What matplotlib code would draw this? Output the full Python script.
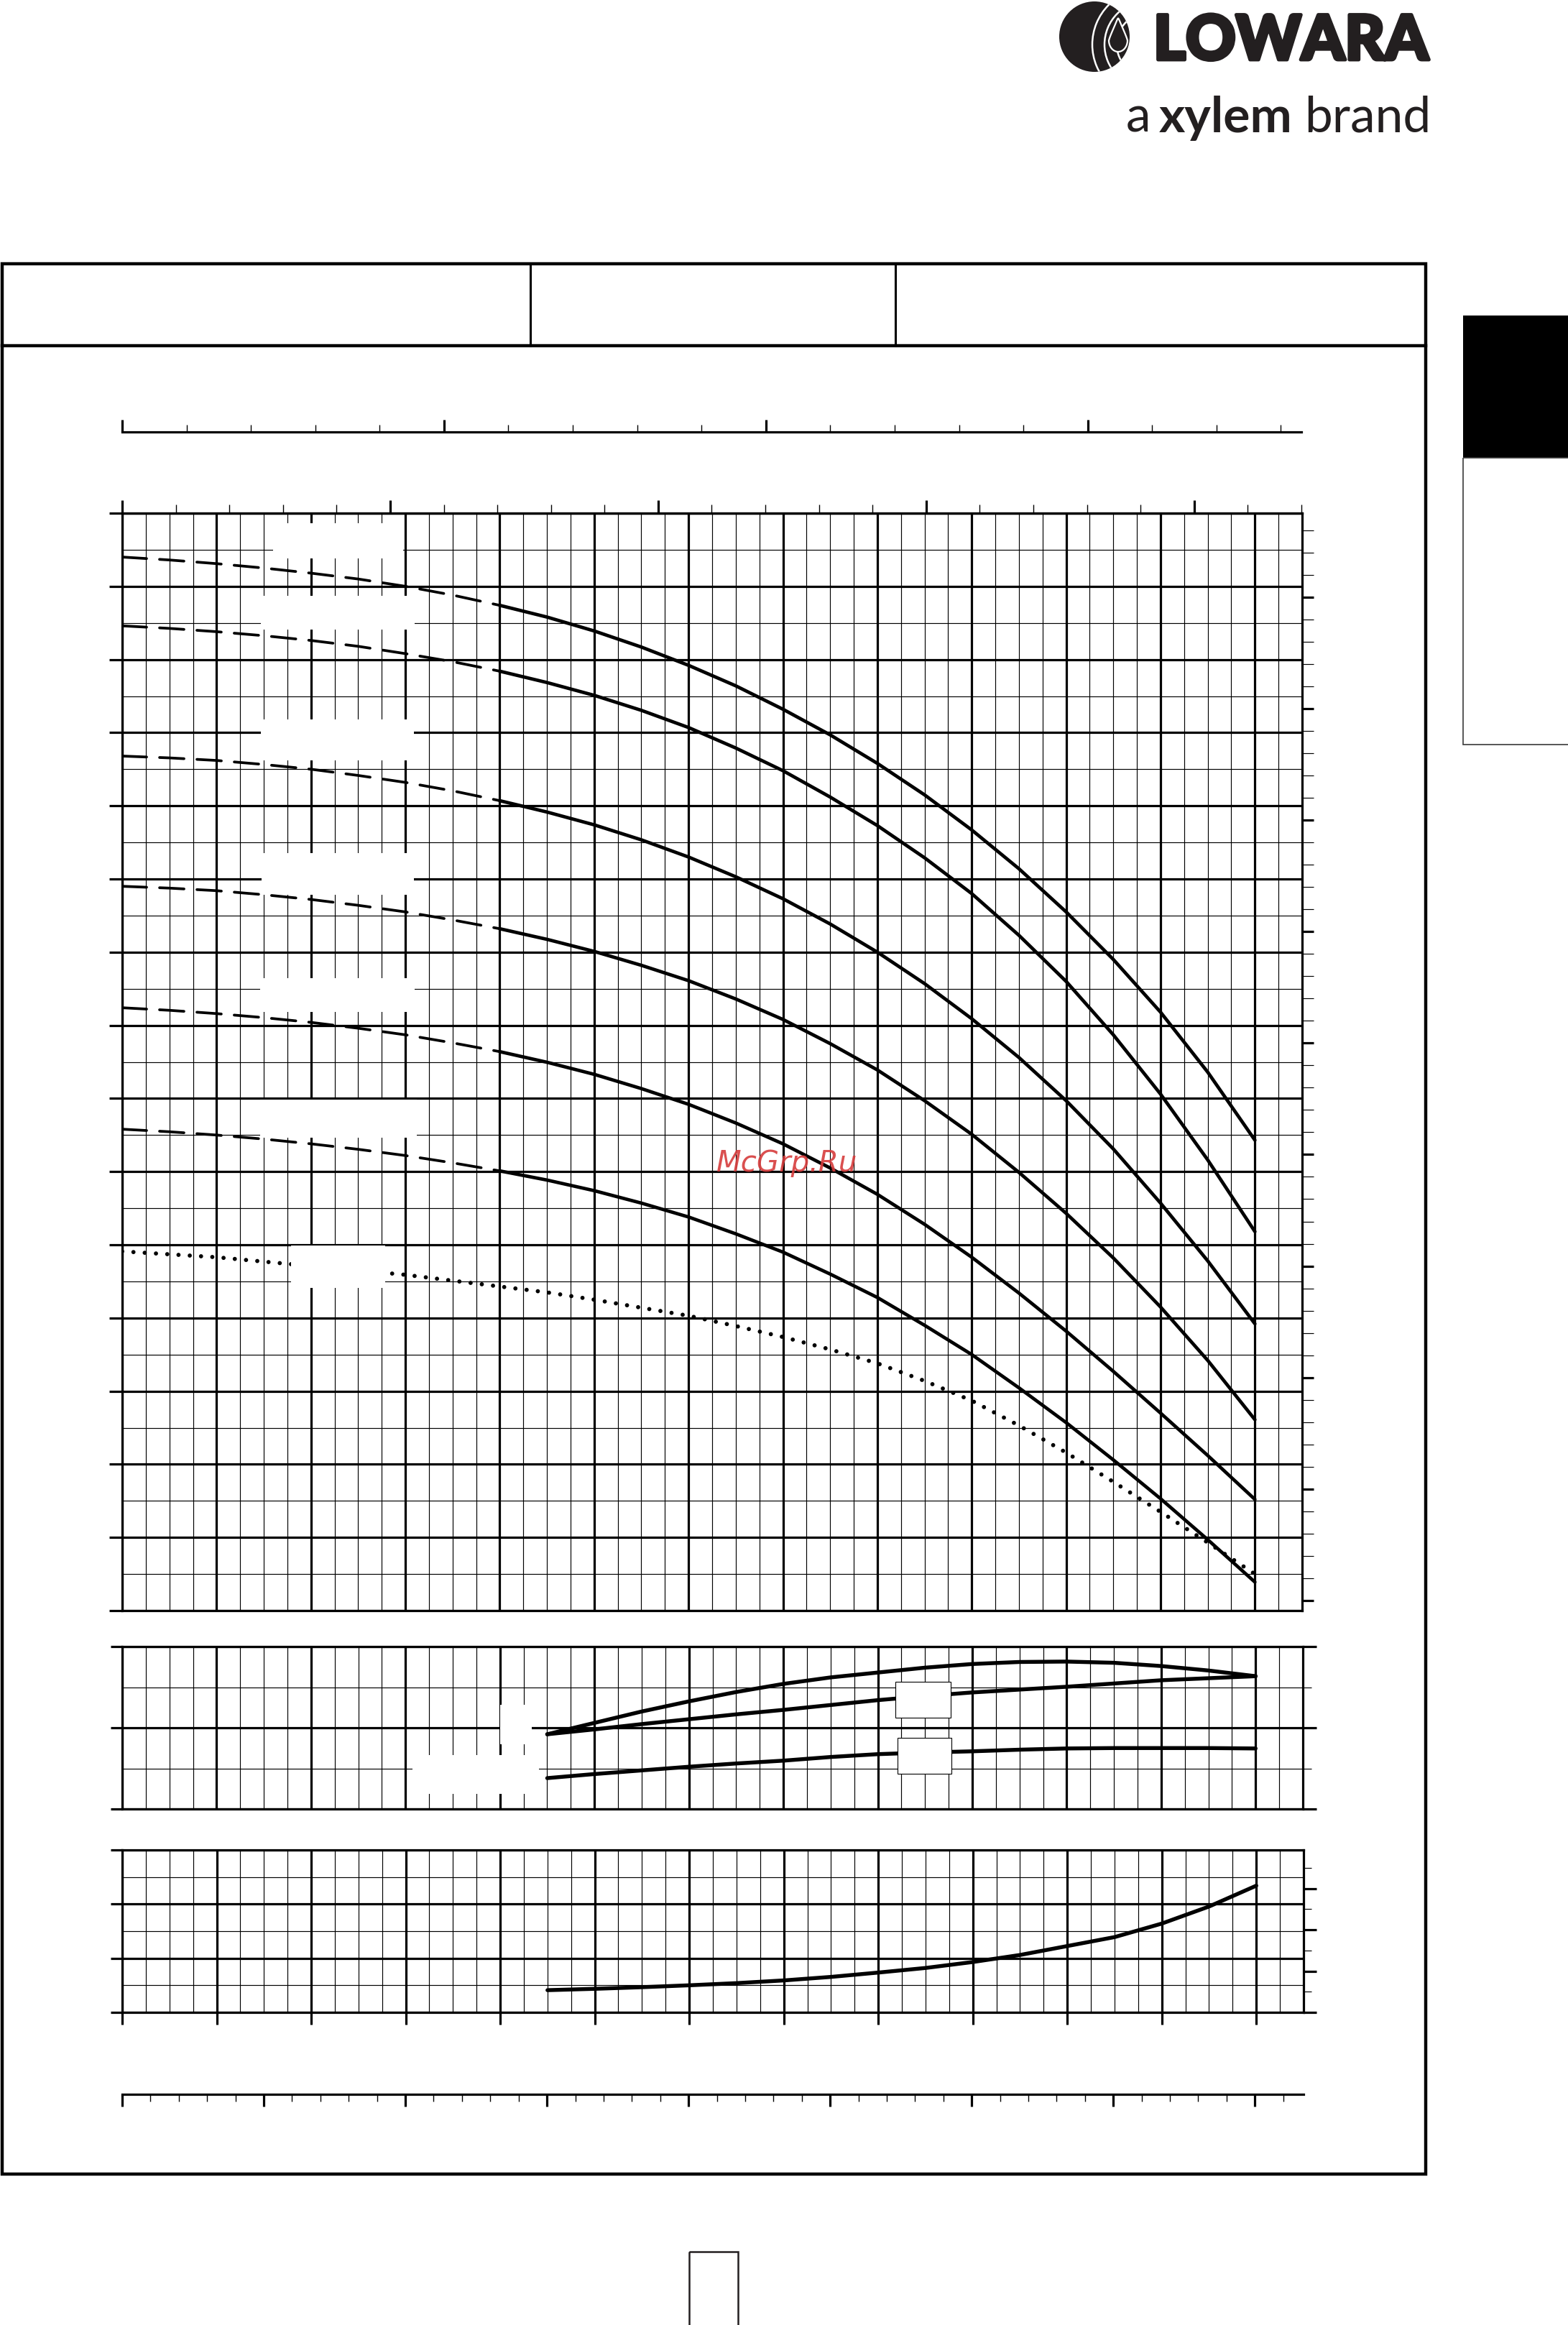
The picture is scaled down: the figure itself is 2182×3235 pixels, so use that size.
import matplotlib
matplotlib.use("Agg")
import matplotlib.pyplot as plt
import matplotlib.patheffects as pe
import numpy as np
from matplotlib.ticker import MultipleLocator
from matplotlib.patches import Rectangle, Circle, Arc, Polygon

plt.rcParams['lines.scale_dashes'] = False
plt.rcParams['font.family'] = ['Lato', 'DejaVu Sans']

# flow along the head curves, m3/h
flow = [0, 0.5, 1, 1.5, 2, 2.5, 3, 3.5, 4, 4.5, 5, 5.5, 6, 6.5, 7, 7.5, 8, 8.5,
        9, 9.5, 10, 10.5, 11, 11.5, 12]
# head curves, m
head_1 = [14.40, 14.36, 14.31, 14.25, 14.18, 14.10, 14.00, 13.88, 13.74, 13.58, 13.39, 13.17,
          12.92, 12.64, 12.32, 11.97, 11.58, 11.15, 10.67, 10.14, 9.55, 8.90, 8.18, 7.36, 6.43]
head_2 = [13.46, 13.425, 13.38, 13.325, 13.26, 13.18, 13.08, 12.97, 12.84, 12.685, 12.51, 12.305,
          12.07, 11.79, 11.48, 11.12, 10.73, 10.29, 9.80, 9.23, 8.60, 7.87, 7.06, 6.16, 5.18]
head_3 = [11.68, 11.655, 11.62, 11.565, 11.50, 11.415, 11.32, 11.205, 11.07, 10.915, 10.74, 10.535,
          10.30, 10.03, 9.73, 9.385, 9.00, 8.57, 8.09, 7.56, 6.97, 6.31, 5.57, 4.78, 3.92]
head_4 = [9.90, 9.875, 9.84, 9.785, 9.72, 9.64, 9.55, 9.44, 9.32, 9.175, 9.01, 8.82,
          8.61, 8.36, 8.08, 7.75, 7.39, 6.97, 6.51, 5.99, 5.43, 4.82, 4.15, 3.42, 2.61]
head_5 = [8.24, 8.205, 8.16, 8.105, 8.04, 7.96, 7.87, 7.76, 7.64, 7.495, 7.33, 7.135,
          6.92, 6.665, 6.38, 6.05, 5.69, 5.28, 4.83, 4.34, 3.82, 3.27, 2.70, 2.12, 1.52]
head_6 = [6.58, 6.545, 6.50, 6.445, 6.38, 6.305, 6.22, 6.12, 6.01, 5.885, 5.74, 5.57,
          5.38, 5.15, 4.90, 4.60, 4.28, 3.90, 3.50, 3.045, 2.57, 2.06, 1.53, 0.97, 0.39]
head_dot = [4.91, 4.87, 4.83, 4.77, 4.71, 4.65, 4.59, 4.51, 4.43, 4.35, 4.25, 4.14,
            4.03, 3.89, 3.74, 3.57, 3.38, 3.14, 2.87, 2.53, 2.16, 1.76, 1.35, 0.93, 0.50]

# operating range (lower charts)
flow_op = [4.5, 5, 5.5, 6, 6.5, 7, 7.5, 8, 8.5, 9, 9.5, 10, 10.5, 11, 11.5, 12]
eff = [1.84, 2.12, 2.40, 2.65, 2.88, 3.08, 3.24, 3.36, 3.48, 3.57, 3.62, 3.63, 3.60, 3.52, 3.41, 3.27]
power_p2 = [1.84, 1.96, 2.09, 2.21, 2.33, 2.44, 2.56, 2.68, 2.78, 2.87, 2.94, 3.01, 3.09, 3.17, 3.22, 3.27]
power_p1 = [0.76, 0.86, 0.95, 1.04, 1.12, 1.19, 1.28, 1.35, 1.39, 1.42, 1.46, 1.49, 1.50, 1.50, 1.50, 1.49]
npsh = [0.82, 0.87, 0.93, 1.00, 1.08, 1.18, 1.31, 1.47, 1.64, 1.86, 2.12, 2.45, 2.78, 3.28, 3.91, 4.68]

split_q = 4.0  # head curves are dashed below this flow

W, H = 2182, 3235
fig = plt.figure(figsize=(W / 100, H / 100), dpi=100)


def px_axes(x0, y0, x1, y1):
    return fig.add_axes([x0 / W, 1 - y1 / H, (x1 - x0) / W, (y1 - y0) / H])


THICK, THIN, CURVE = 2.3, 0.85, 3.4
M3H_PER_UNIT = 131.36  # px per m3/h
INK = '#231f20'

# ---- page decoration
deco = px_axes(0, 0, W, H)
deco.set_xlim(0, W)
deco.set_ylim(H, 0)
deco.axis('off')
deco.add_patch(Rectangle((3, 367), 1981, 2658, fill=False, ec='k', lw=3.2))
deco.plot([3, 1984], [481, 481], color='k', lw=3.2)
for xd in (738, 1246):
    deco.plot([xd, xd], [367, 481], color='k', lw=2.2)
deco.add_patch(Rectangle((2036, 439), 160, 198, fc='k', ec='none'))
deco.add_patch(Rectangle((2036, 637), 160, 399, fc='none', ec='#3a3a3a', lw=1.2))
deco.add_patch(Rectangle((959, 3133), 68, 140, fc='none', ec=INK, lw=1.8))

# logo
logo = Circle((1523, 51), 49, fc=INK, ec='none')
deco.add_patch(logo)
for r in (44, 61, 78):
    arc = Arc((1598, 62), 2 * r, 2 * r, color='white', lw=1.8)
    deco.add_patch(arc)
    arc.set_clip_path(logo)
t = np.linspace(0, 2 * np.pi, 60)
drop = np.column_stack([1556 + 13 * np.sin(t) * np.where(np.cos(t) < 0, 1, 1 - 0.75 * np.cos(t)),
                        56 + 16 * -np.cos(t) * np.where(np.cos(t) > 0, 1.9, 1)])
deco.add_patch(Polygon(drop, closed=True, fc=INK, ec='white', lw=1.6))
deco.text(1605, 83, 'LOWARA', fontsize=62, fontweight='black', color=INK,
          ha='left', va='baseline',
          path_effects=[pe.withStroke(linewidth=3.5, foreground=INK)])
deco.text(1567, 184, 'a', fontsize=50, color=INK, ha='left', va='baseline')
deco.text(1613, 184, 'xylem', fontsize=50, fontweight='bold', color=INK, ha='left', va='baseline')
deco.text(1815, 184, 'brand', fontsize=50, color=INK, ha='left', va='baseline')


def chart_grid(ax, ylim, ymaj, ymin, left_len):
    ax.set_xlim(0, 12.5)
    ax.set_ylim(*ylim)
    ax.xaxis.set_major_locator(MultipleLocator(1))
    ax.xaxis.set_minor_locator(MultipleLocator(0.25))
    ax.yaxis.set_major_locator(MultipleLocator(ymaj))
    ax.yaxis.set_minor_locator(MultipleLocator(ymin))
    ax.grid(which='major', color='k', lw=THICK)
    ax.grid(which='minor', color='k', lw=THIN)
    ax.set_axisbelow(True)
    ax.tick_params(which='both', labelbottom=False, labelleft=False)
    ax.tick_params(axis='x', which='both', length=0)
    ax.tick_params(axis='y', which='major', direction='out', length=left_len, width=THICK)
    ax.tick_params(axis='y', which='minor', length=0)
    for s in ax.spines.values():
        s.set_linewidth(THICK)


def right_ticks(ax, ylim, maj, mnr, len_maj, len_min):
    r = ax.twinx()
    r.set_ylim(*ylim)
    r.yaxis.set_major_locator(MultipleLocator(maj))
    r.yaxis.set_minor_locator(MultipleLocator(mnr))
    r.tick_params(axis='y', which='major', direction='out', length=len_maj, width=THICK, labelright=False)
    r.tick_params(axis='y', which='minor', direction='out', length=len_min, width=THIN)
    for s in r.spines.values():
        s.set_visible(False)
    return r


def scale_line(ax, xmax, maj, mnr, side):
    ax.set_xlim(0, xmax)
    ax.set_ylim(0, 1)
    ax.patch.set_visible(False)
    ax.set_yticks([])
    for s in ('top', 'bottom', 'left', 'right'):
        ax.spines[s].set_visible(s == side)
    ax.spines[side].set_linewidth(THICK)
    if side == 'top':
        ax.xaxis.tick_top()
    ax.xaxis.set_major_locator(MultipleLocator(maj))
    ax.xaxis.set_minor_locator(MultipleLocator(mnr))
    ax.tick_params(axis='x', which='both', direction='in', labelbottom=False, labeltop=False)
    ax.tick_params(axis='x', which='major', length=12.5, width=THICK)
    ax.tick_params(axis='x', which='minor', length=7.5, width=1.0)


# ---- Imp gpm scale at the very top
ax_imp = px_axes(170, 560, 1811, 601)
scale_line(ax_imp, 1641 / M3H_PER_UNIT * 3.666, 12.5, 2.5, 'bottom')

# ---- head chart
ax = px_axes(170, 714, 1812, 2241)
chart_grid(ax, (0, 15), 1, 0.5, 13)
sec = ax.secondary_xaxis('top', functions=(lambda q: q * 4.4029, lambda g: g / 4.4029))
sec.xaxis.set_major_locator(MultipleLocator(12.5))
sec.xaxis.set_minor_locator(MultipleLocator(2.5))
sec.tick_params(which='major', direction='out', length=13, width=THICK, labeltop=False)
sec.tick_params(which='minor', direction='out', length=8.5, width=1.0)
sec.spines['top'].set_linewidth(THICK)
right_ticks(ax, (-0.1375 / 0.3048, (15 - 0.1375) / 0.3048), 5, 1, 11.5, 11.5)

main_blanks = [(1.60, 14.38, 2.98, 14.86), (1.47, 13.41, 3.10, 13.87), (1.47, 11.62, 3.09, 12.18),
               (1.48, 9.78, 3.09, 10.35), (1.46, 8.18, 3.10, 8.64), (1.46, 6.46, 3.12, 6.98),
               (1.79, 4.41, 2.79, 4.99)]
for x0, y0, x1, y1 in main_blanks:
    ax.add_patch(Rectangle((x0, y0), x1 - x0, y1 - y0, fc='white', ec='none', zorder=1))

q = np.array(flow)
lo = q <= split_q
hi = q >= split_q
for hd in (head_1, head_2, head_3, head_4, head_5, head_6):
    hd = np.array(hd)
    ax.plot(q[lo], hd[lo], color='k', lw=2.7, ls=(0, (24.5, 13)), dash_capstyle='round', zorder=3)
    ax.plot(q[hi], hd[hi], color='k', lw=CURVE, solid_capstyle='round',
            solid_joinstyle='round', zorder=3)
ax.plot(flow, head_dot, color='k', lw=4.2, ls=(0, (0.01, 11.3)), dash_capstyle='round', zorder=0.9)

# ---- efficiency / power chart
ax_m = px_axes(170, 2291, 1813, 2517)
chart_grid(ax_m, (0, 4), 2, 1, 11.5)
right_ticks(ax_m, (0, 4), 2, 1, 13.5, 8.5)
for x0, y0, x1, y1 in [(4.00, 1.59, 4.34, 2.57), (3.07, 0.37, 4.41, 1.33)]:
    ax_m.add_patch(Rectangle((x0, y0), x1 - x0, y1 - y0, fc='white', ec='none', zorder=1))
for x0, y0, x1, y1 in [(8.19, 2.25, 8.77, 3.13), (8.21, 0.87, 8.78, 1.75)]:
    ax_m.add_patch(Rectangle((x0, y0), x1 - x0, y1 - y0, fc='white', ec='k', lw=0.8, zorder=5))
for series in (eff, power_p2, power_p1):
    ax_m.plot(flow_op, series, color='k', lw=CURVE + 0.5, solid_capstyle='round',
              solid_joinstyle='round', zorder=3)

# ---- NPSH chart
ax_n = px_axes(170, 2574, 1814, 2800)
chart_grid(ax_n, (0, 6), 2, 1, 11.5)
ax_n.tick_params(axis='x', which='major', direction='out', length=12, width=THICK)
right_ticks(ax_n, (0, 6 / 0.3048), 5, 2.5, 13, 8)
ax_n.plot(flow_op, npsh, color='k', lw=CURVE + 0.5, solid_capstyle='round',
          solid_joinstyle='round', zorder=3)

# ---- l/min scale at the bottom
ax_l = px_axes(170, 2914, 1814, 2960)
scale_line(ax_l, 1644 / M3H_PER_UNIT * 16.667, 25, 5, 'top')

# watermark above everything
fig.text(1095 / W, 1 - 1619 / H, 'McGrp.Ru', fontsize=29, style='italic', color='#d63c3c',
         alpha=0.9, ha='center', va='center', family='DejaVu Sans', zorder=20)

fig.savefig('out.png', dpi=100)
